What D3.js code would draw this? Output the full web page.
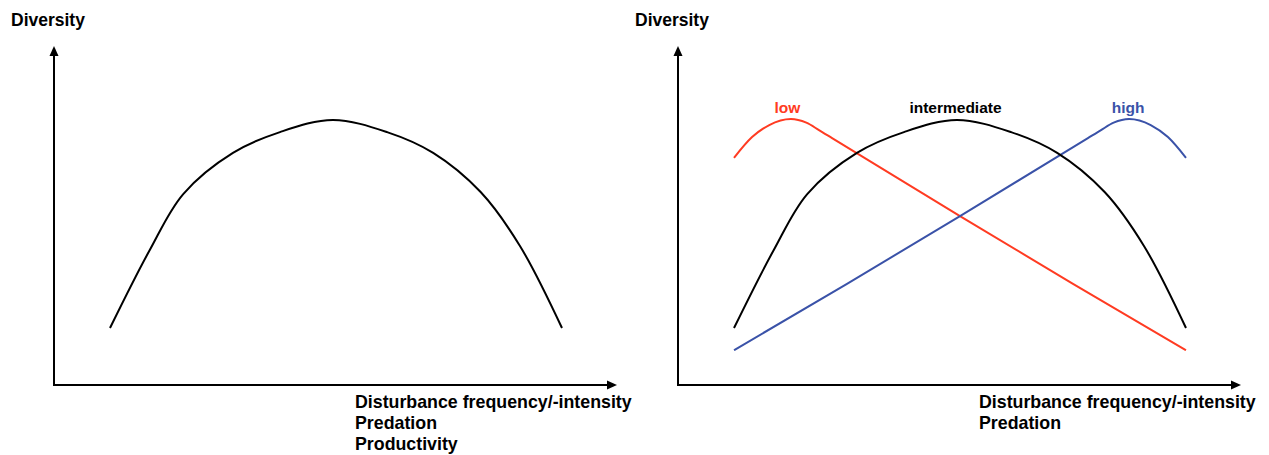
<!DOCTYPE html>
<html>
<head>
<meta charset="utf-8">
<script src="https://cdn.jsdelivr.net/npm/d3@7"></script>
<style>
  html, body { margin: 0; padding: 0; background: #fff; }
  svg { display: block; }
  text { font-family: "Liberation Sans", Arial, Helvetica, sans-serif; font-weight: bold; }
</style>
</head>
<body>
<svg id="chart" width="1269" height="455"></svg>
<script>
// ---- Data (arbitrary units 0..10) ----
const diversityX = [0, 0.88, 1.62, 2.72, 3.76, 4.93, 6.13, 7.15, 8.2, 9.07, 10];
const diversityY = [1.70, 4.03, 5.70, 6.93, 7.55, 7.91, 7.55, 6.93, 5.76, 4.15, 1.70];

const lowX = [0, 0.4, 0.78, 1.26, 1.6, 1.88, 2.17, 5.0, 7.5, 10];
const lowY = [6.78, 7.40, 7.76, 7.94, 7.83, 7.61, 7.37, 5.04, 3.02, 1.04];

const highX = [0, 2.5, 5.0, 7.83, 8.12, 8.4, 8.74, 9.22, 9.6, 10];
const highY = [1.04, 3.02, 5.04, 7.37, 7.61, 7.83, 7.94, 7.76, 7.40, 6.78];

const yAxisTitle = "Diversity";
const leftXLabels = ["Disturbance frequency/-intensity", "Predation", "Productivity"];
const rightXLabels = ["Disturbance frequency/-intensity", "Predation"];
const seriesNames = ["low", "intermediate", "high"];

// ---- Layout ----
const svg = d3.select("#chart");
const panels = [
  { origin: 54, labels: leftXLabels, series: "single" },
  { origin: 678, labels: rightXLabels, series: "multi" }
];
const colors = { low: "#ff3b22", intermediate: "#000000", high: "#3a52a8" };

const y = d3.scaleLinear().domain([0, 10]).range([385, 50]);
const zip = (xs, ys) => xs.map((v, i) => [v, ys[i]]);

panels.forEach(p => {
  const x = d3.scaleLinear().domain([0, 10]).range([p.origin + 56, p.origin + 508]);
  const g = svg.append("g");

  // axes
  const x0 = p.origin, y0 = y(0);
  const xEnd = p.origin + 563, yTop = 46;
  g.append("line").attr("x1", x0).attr("y1", y0 + 1).attr("x2", x0).attr("y2", yTop + 8)
    .attr("stroke", "#000").attr("stroke-width", 2);
  g.append("line").attr("x1", x0 - 1).attr("y1", y0).attr("x2", xEnd - 8).attr("y2", y0)
    .attr("stroke", "#000").attr("stroke-width", 2);
  g.append("path").attr("d", `M${x0},${yTop} L${x0 - 4.5},${yTop + 10} L${x0 + 4.5},${yTop + 10} Z`).attr("fill", "#000");
  g.append("path").attr("d", `M${xEnd},${y0} L${xEnd - 10},${y0 - 4.5} L${xEnd - 10},${y0 + 4.5} Z`).attr("fill", "#000");

  // titles
  g.append("text").attr("x", p.origin - 43).attr("y", 26).attr("font-size", 17.5).text(yAxisTitle);
  p.labels.forEach((t, i) => {
    g.append("text").attr("x", p.origin + 301).attr("y", 408 + i * 21).attr("font-size", 17.8).text(t);
  });

  const line = d3.line().x(d => x(d[0])).y(d => y(d[1])).curve(d3.curveCatmullRom.alpha(0.5));
  const smooth = d3.line().x(d => x(d[0])).y(d => y(d[1])).curve(d3.curveMonotoneX);
  const draw = (gen, data, color) => g.append("path").attr("d", gen(data)).attr("fill", "none")
    .attr("stroke", color).attr("stroke-width", 2).attr("stroke-linejoin", "round");

  if (p.series === "single") {
    draw(line, zip(diversityX, diversityY), "#000");
  } else {
    draw(smooth, zip(lowX, lowY), colors.low);
    draw(smooth, zip(highX, highY), colors.high);
    draw(line, zip(diversityX, diversityY), colors.intermediate);

    const labelPos = [
      { name: seriesNames[0], xv: 1.18 },
      { name: seriesNames[1], xv: 4.9 },
      { name: seriesNames[2], xv: 8.72 }
    ];
    labelPos.forEach(l => {
      g.append("text").attr("x", x(l.xv)).attr("y", 113).attr("text-anchor", "middle")
        .attr("font-size", 15.5).attr("fill", colors[l.name]).text(l.name);
    });
  }
});
</script>
</body>
</html>
